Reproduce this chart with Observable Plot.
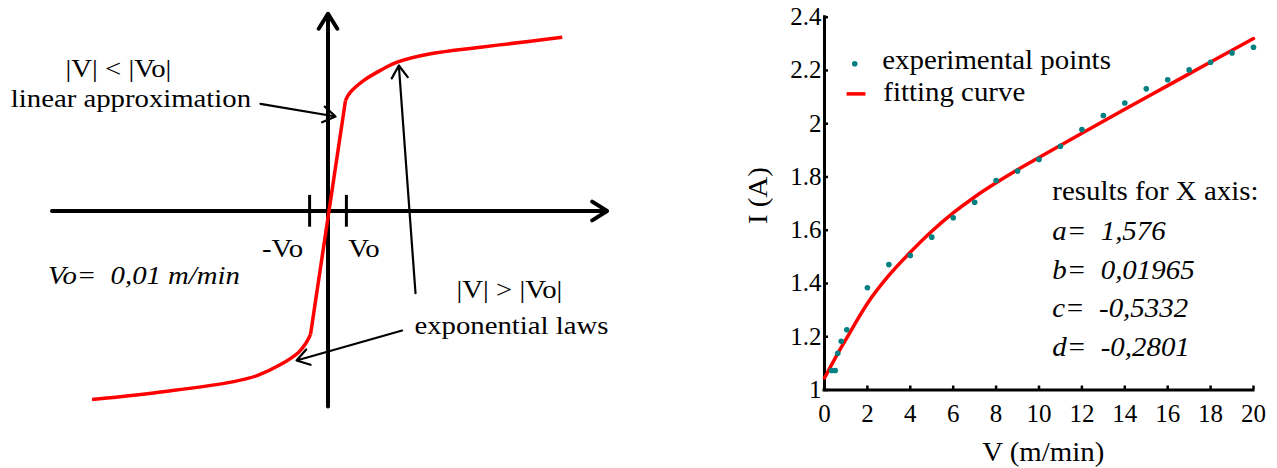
<!DOCTYPE html>
<html>
<head>
<meta charset="utf-8">
<script src="https://cdn.jsdelivr.net/npm/d3@7"></script>
<script src="https://cdn.jsdelivr.net/npm/@observablehq/plot@0.6"></script>
<style>
  html, body { margin: 0; padding: 0; background: #fff; }
  #wrap { position: relative; width: 1277px; height: 468px; overflow: hidden; background: #fff; }
  #left { position: absolute; left: 0; top: 0; width: 640px; height: 468px; }
  #right { position: absolute; left: 640px; top: 0; width: 637px; height: 468px; }
  #wrap svg, #wrap svg text { font-family: "Liberation Serif", "Times New Roman", serif; }
</style>
</head>
<body>
<div id="wrap"><div id="left"></div><div id="right"></div></div>
<script>
// ---------- LEFT: schematic characteristic (units: Vo = 1) ----------
const schemeV = [-12.82, -8.74, -5.12, -3.85, -2.58, -1.59, -1.22, -0.95, 0.95, 1.22, 1.95, 2.85, 3.76, 5.57, 8.29, 11.01, 12.73];
const schemeI = [-9.43, -9.01, -8.53, -8.23, -7.68, -7.06, -6.64, -6.18, 5.53, 5.94, 6.53, 7.03, 7.44, 7.86, 8.19, 8.49, 8.69];
const kinkLow = 7;   // index of the -Vo knee
const kinkHigh = 8;  // index of the +Vo knee
const schemeTicks = [-1, 1];
const schemeAxes = [
  {x1: -15.0, y1: 0, x2: 15.17, y2: 0},
  {x1: 0, y1: -9.78, x2: 0, y2: 9.86}
];
const schemeArrows = [
  {x1: -3.67, y1: 5.36, x2: 0.41, y2: 4.725},
  {x1: 4.755, y1: -4.11, x2: 3.85, y2: 7.275},
  {x1: 4.03, y1: -5.975, x2: -1.71, y2: -7.475}
];
const schemeLabels = [
  {x: -11.39, y: 7.125, text: "|V| < |Vo|"},
  {x: -10.71, y: 5.625, text: "linear approximation"},
  {x: -2.47, y: -1.875, text: "-Vo"},
  {x: 1.95, y: -1.875, text: "Vo"},
  {x: 9.86, y: -3.96, text: "|V| > |Vo|"},
  {x: 9.97, y: -5.74, text: "exponential laws"}
];
const schemeItalic = [
  {x: -10.0, y: -3.24, text: "Vo=\u00a0\u00a00,01 m/min"}
];

// ---------- RIGHT: measured I(V) ----------
const expV = [0.33, 0.5, 0.62, 0.78, 1.04, 2, 3, 4, 5, 6, 7, 8, 9, 10, 11, 12, 13, 14, 15, 16, 17, 18, 19, 20];
const expI = [1.073, 1.073, 1.138, 1.183, 1.226, 1.384, 1.471, 1.505, 1.574, 1.647, 1.705, 1.787, 1.822, 1.866, 1.915, 1.978, 2.031, 2.078, 2.131, 2.165, 2.202, 2.231, 2.266, 2.287];
const fitV = [0, 0.5, 1, 2, 3, 4, 5, 6, 7, 8, 9, 10, 12, 14, 16, 18, 20];
const fitI = [1.045, 1.12, 1.19, 1.325, 1.43, 1.517, 1.596, 1.665, 1.725, 1.778, 1.827, 1.873, 1.964, 2.054, 2.143, 2.232, 2.32];
const vTicks = [0, 2, 4, 6, 8, 10, 12, 14, 16, 18, 20];
const iTicks = [1, 1.2, 1.4, 1.6, 1.8, 2, 2.2, 2.4];
const resultLines = ["a=\u00a0\u00a01,576", "b=\u00a0\u00a00,01965", "c=\u00a0\u00a0-0,5332", "d=\u00a0\u00a0-0,2801"];
const resultLineI = [1.5965, 1.450, 1.3058, 1.162];
const resultTitle = [{x: 10.62, y: 1.7467, text: "results for X axis:"}];
const legendDot = [{x: 1.41, y: 2.225}];
const legendLine = [{x1: 1.03, x2: 1.91, y: 2.112}];
const legendText = [
  {x: 2.69, y: 2.2386, text: "experimental points"},
  {x: 2.74, y: 2.1196, text: "fitting curve"}
];
const axisTitles = [
  {x: -3.08, y: 1.73, text: "I (A)", rotate: -90},
  {x: 10.2, y: 0.7676, text: "V (m/min)", rotate: 0}
];

const FONT = '"Liberation Serif", "Times New Roman", serif';
const RED = "#ff0000";
const TEAL = "#008080";

const schemeCurve = schemeV.map((v, i) => ({v, i: schemeI[i]}));
const lowBend = schemeCurve.slice(0, kinkLow + 1);
const linearPart = schemeCurve.slice(kinkLow, kinkHigh + 1);
const highBend = schemeCurve.slice(kinkHigh);
const expPts = expV.map((v, k) => ({v, i: expI[k]}));
const fitPts = fitV.map((v, k) => ({v, i: fitI[k]}));
const results = resultLines.map((text, k) => ({x: 10.62, y: resultLineI[k], text}));

const redLine = {x: "v", y: "i", stroke: RED, strokeWidth: 3.5, strokeLinejoin: "round", strokeLinecap: "butt"};
const baseStyle = `font-family: ${FONT}; color: black; background: transparent; overflow: visible;`;

const leftPlot = Plot.plot({
  width: 640, height: 468, margin: 0,
  style: baseStyle,
  x: {domain: [-15, 15], range: [51.5, 603.5], axis: null},
  y: {domain: [-10, 10], range: [410.5, 10.5], axis: null},
  marks: [
    Plot.arrow(schemeAxes, {x1: "x1", y1: "y1", x2: "x2", y2: "y2", stroke: "black", strokeWidth: 4, headLength: 6.6, headAngle: 64}),
    Plot.ruleX(schemeTicks, {x: d => d, y1: 0.78, y2: -0.81, stroke: "black", strokeWidth: 3}),
    Plot.line(lowBend, {...redLine, curve: "catmull-rom"}),
    Plot.line(linearPart, {...redLine, curve: "linear"}),
    Plot.line(highBend, {...redLine, curve: "catmull-rom"}),
    Plot.arrow(schemeArrows, {x1: "x1", y1: "y1", x2: "x2", y2: "y2", stroke: "black", strokeWidth: 2.2, headLength: 10, headAngle: 66}),
    Plot.text(schemeLabels, {x: "x", y: "y", text: "text", fontSize: 25, fill: "black", textAnchor: "middle"}),
    Plot.text(schemeItalic, {x: "x", y: "y", text: "text", fontSize: 25, fill: "black", fontStyle: "italic", textAnchor: "middle"})
  ]
});

const rightPlot = Plot.plot({
  width: 637, height: 468,
  marginLeft: 184, marginRight: 24, marginTop: 16.7, marginBottom: 78.5,
  style: baseStyle,
  x: {domain: [0, 20]},
  y: {domain: [1, 2.4]},
  marks: [
    Plot.axisX({ticks: vTicks, tickSize: -4, tickPadding: 18.5, fontSize: 25, strokeWidth: 2.5, label: null, tickFormat: d => String(d)}),
    Plot.axisY({ticks: iTicks, tickSize: -4, tickPadding: 7, fontSize: 25, strokeWidth: 2.5, label: null, tickFormat: d => String(+d.toFixed(1))}),
    Plot.ruleY([1], {stroke: "black", strokeWidth: 3, strokeLinecap: "square"}),
    Plot.ruleX([0], {stroke: "black", strokeWidth: 3, strokeLinecap: "square"}),
    Plot.line(fitPts, {x: "v", y: "i", stroke: RED, strokeWidth: 3.5, curve: "monotone-x"}),
    Plot.dot(expPts, {x: "v", y: "i", r: 2.8, fill: TEAL}),
    Plot.dot(legendDot, {x: "x", y: "y", r: 2.8, fill: TEAL}),
    Plot.link(legendLine, {x1: "x1", x2: "x2", y1: "y", y2: "y", stroke: RED, strokeWidth: 3.5}),
    Plot.text(legendText, {x: "x", y: "y", text: "text", fontSize: 27, fill: "black", textAnchor: "start"}),
    Plot.text(resultTitle, {x: "x", y: "y", text: "text", fontSize: 27, fill: "black", textAnchor: "start"}),
    Plot.text(results, {x: "x", y: "y", text: "text", fontSize: 27, fill: "black", fontStyle: "italic", textAnchor: "start"}),
    Plot.text(axisTitles, {x: "x", y: "y", text: "text", rotate: "rotate", fontSize: 27, fill: "black", textAnchor: "middle"})
  ]
});

document.getElementById("left").appendChild(leftPlot);
document.getElementById("right").appendChild(rightPlot);

// the reference typography is slightly wider than Times: stretch annotation text horizontally
function stretch(svg, k) {
  svg.querySelectorAll('g[aria-label="text"] text').forEach(t => {
    const w = t.getComputedTextLength();
    if (w > 0) {
      t.setAttribute("textLength", (w * k).toFixed(1));
      t.setAttribute("lengthAdjust", "spacingAndGlyphs");
    }
  });
}
stretch(leftPlot, 1.15);
stretch(rightPlot, 1.07);
</script>
</body>
</html>
